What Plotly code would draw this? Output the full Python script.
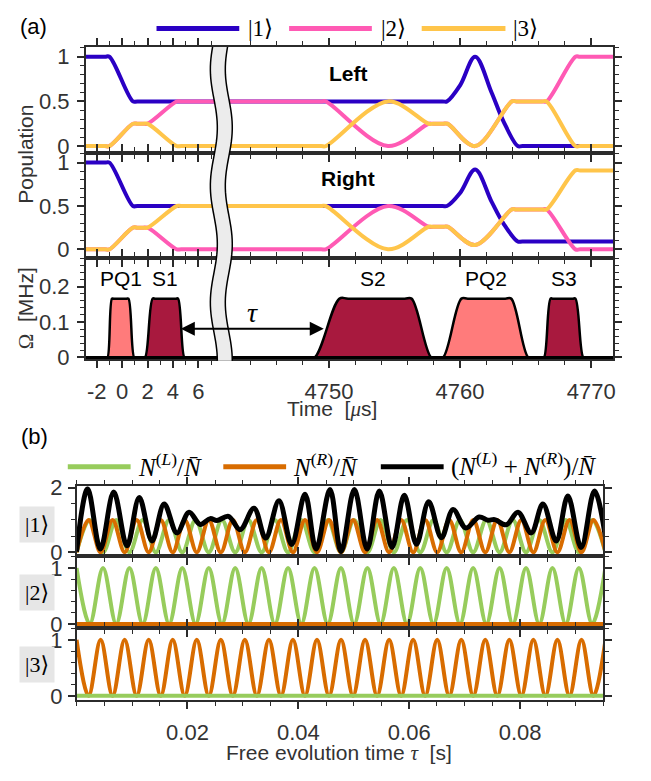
import math
import plotly.graph_objects as go

# ================= DATA =================
# ---- panel (a): populations (time in microseconds) ----
pop_t = [-3.0, -1.0, 0.85, 2.0, 4.3, 4749.75, 4754.5, 4757.6, 4759.05, 4761.15, 4763.95, 4766.6, 4768.8, 4772.0]
pink_left = [0, 0, 0.25, 0.25, 0.5, 0.5, 0, 0.25, 0.25, 0, 0.5, 0.5, 1.0, 1.0]
yellow_left = [0, 0, 0.25, 0.25, 0, 0, 0.5, 0.25, 0.25, 0, 0.5, 0.5, 0, 0]
pink_right = [0, 0, 0.25, 0.25, 0, 0, 0.5, 0.26, 0.26, 0.05, 0.46, 0.46, 0, 0]
yellow_right = [0, 0, 0.25, 0.25, 0.5, 0.5, 0, 0.26, 0.26, 0.05, 0.46, 0.46, 0.91, 0.91]
blue_t = [-3.0, -1.0, 0.85, 4759.0, 4760.0, 4761.15, 4762.4, 4763.3, 4764.4, 4772.0]
blue_left = [1, 1, 0.5, 0.5, 0.68, 1.0, 0.6, 0.28, 0, 0]
blue_right = [1, 1, 0.5, 0.5, 0.65, 0.92, 0.55, 0.3, 0.09, 0.09]

# ---- panel (a): pulses ----
pulse_labels = ["PQ1", "S1", "S2", "PQ2", "S3"]
pulse_kind = ["PQ", "S", "S", "PQ", "S"]
pulse_base_start = [-1.15, 1.8, 4748.9, 4758.7, 4766.4]
pulse_top_start = [-0.8, 2.4, 4750.8, 4760.1, 4766.9]
pulse_top_end = [0.5, 4.4, 4756.3, 4763.9, 4768.8]
pulse_base_end = [0.95, 4.9, 4757.8, 4765.2, 4769.4]
pulse_amp = 0.166
tau_arrow_t = [4.5, 4749.6]
tau_arrow_level = 0.081
time_ticks = [-2, 0, 2, 4, 6, 4750, 4760, 4770]
time_minor = [-1, 1, 3, 5, 7, 4744, 4746, 4748, 4752, 4754, 4756, 4758, 4762, 4764, 4766, 4768]

# ---- panel (b): free evolution (tau in s), extrema ----
green_t = [0.0, 0.00238, 0.00477, 0.00715, 0.00954, 0.01192, 0.0143, 0.01669, 0.01907, 0.02146,
           0.02384, 0.02622, 0.02861, 0.03099, 0.03338, 0.03576, 0.03814, 0.04053, 0.04291, 0.0453,
           0.04768, 0.05006, 0.05245, 0.05483, 0.05722, 0.0596, 0.06198, 0.06437, 0.06675, 0.06914,
           0.07152, 0.0739, 0.07629, 0.07867, 0.08106, 0.08344, 0.08582, 0.08821, 0.09059, 0.09298, 0.09536]
green_s2 = [1, 0, 1, 0, 1, 0, 1, 0, 1, 0, 1, 0, 1, 0, 1, 0, 1, 0, 1, 0, 1,
            0, 1, 0, 1, 0, 1, 0, 1, 0, 1, 0, 1, 0, 1, 0, 1, 0, 1, 0, 1]
green_s1 = [0, 1, 0, 1, 0, 1, 0, 1, 0, 1, 0, 1, 0, 1, 0, 1, 0, 1, 0, 1, 0,
            1, 0, 1, 0, 1, 0, 1, 0, 1, 0, 1, 0, 1, 0, 1, 0, 1, 0, 1, 0]
orange_t = [0.0, 0.00217, 0.00434, 0.0065, 0.00867, 0.01084, 0.01301, 0.01518, 0.01734, 0.01951,
            0.02168, 0.02385, 0.02602, 0.02818, 0.03035, 0.03252, 0.03469, 0.03686, 0.03902, 0.04119,
            0.04336, 0.04553, 0.0477, 0.04986, 0.05203, 0.0542, 0.05637, 0.05854, 0.0607, 0.06287,
            0.06504, 0.06721, 0.06938, 0.07154, 0.07371, 0.07588, 0.07805, 0.08022, 0.08238, 0.08455,
            0.08672, 0.08889, 0.09106, 0.09322, 0.09539]
orange_s3 = [1, 0, 1, 0, 1, 0, 1, 0, 1, 0, 1, 0, 1, 0, 1, 0, 1, 0, 1, 0, 1, 0, 1,
             0, 1, 0, 1, 0, 1, 0, 1, 0, 1, 0, 1, 0, 1, 0, 1, 0, 1, 0, 1, 0, 1]
orange_s1 = [0, 1, 0, 1, 0, 1, 0, 1, 0, 1, 0, 1, 0, 1, 0, 1, 0, 1, 0, 1, 0, 1, 0,
             1, 0, 1, 0, 1, 0, 1, 0, 1, 0, 1, 0, 1, 0, 1, 0, 1, 0, 1, 0, 1, 0]
black_t = [0.0, 0.0020, 0.0043, 0.0067, 0.0091, 0.0113, 0.0136, 0.0158, 0.0181, 0.0203,
           0.0223, 0.0241, 0.0253, 0.0274, 0.0295, 0.0320, 0.0341, 0.0365, 0.0388, 0.0412,
           0.0432, 0.0457, 0.0477, 0.0501, 0.0524, 0.0546, 0.0569, 0.0591, 0.0613, 0.0635,
           0.0658, 0.0679, 0.0702, 0.0726, 0.0742, 0.0754, 0.0775, 0.0796, 0.0820, 0.0841,
           0.0865, 0.0886, 0.0910, 0.0934, 0.0957]
black_v = [0.02, 1.96, 0.10, 1.86, 0.20, 1.69, 0.35, 1.49, 0.60, 1.24,
           0.86, 1.04, 0.98, 1.11, 0.70, 1.36, 0.44, 1.59, 0.24, 1.79,
           0.10, 1.94, 0.02, 1.94, 0.10, 1.89, 0.15, 1.76, 0.25, 1.56,
           0.45, 1.32, 0.75, 1.09, 0.99, 1.01, 0.85, 1.24, 0.60, 1.49,
           0.35, 1.74, 0.15, 1.89, 0.10]
tau_ticks = [0.02, 0.04, 0.06, 0.08]

# ================= STYLE =================
W, H = 651, 781
SANS = "Liberation Sans, Arial, sans-serif"
SERIF = "Liberation Serif, DejaVu Serif, serif"
LC = "#2b2b2b"
TC = "#333333"
BLUE = "#2a00c4"
PINK = "#ff5ab4"
YELLOW = "#ffc54a"
GREEN = "#97cc5c"
ORANGE = "#d86c00"
PQ_FILL = "#ff7b7b"
S_FILL = "#a8193e"
TICK_SIZE = 22


def px(x):
    return x / W


def py(y):
    return 1 - y / H


def tx(t):
    # broken time axis: early segment and late segment
    return 122.5 + 12.75 * t if t < 1000 else 330.0 + 13.15 * (t - 4750.0)


def pinned(t, v, d=0.35):
    T, V = [t[0]], [v[0]]
    for i in range(1, len(t)):
        if v[i] == v[i - 1] and t[i] - t[i - 1] > 2.2 * d:
            T += [t[i - 1] + d, t[i] - d]
            V += [v[i], v[i]]
        T.append(t[i])
        V.append(v[i])
    return [tx(a) for a in T], V


fig = go.Figure()


def line(x, y, color, width, xa, ya, spline=True):
    fig.add_trace(go.Scatter(x=x, y=y, mode="lines", xaxis=xa, yaxis=ya,
                             line=dict(color=color, width=width,
                                       shape="spline" if spline else "linear", smoothing=1.0),
                             showlegend=False, hoverinfo="skip"))


# panel (a) populations
for xa, ya, b, p, yl in [("x", "y", blue_left, pink_left, yellow_left),
                         ("x2", "y2", blue_right, pink_right, yellow_right)]:
    bx, by = pinned(blue_t, b)
    line(bx, by, BLUE, 4, xa, ya)
    qx, qy = pinned(pop_t, p)
    line(qx, qy, PINK, 4, xa, ya)
    rx, ry = pinned(pop_t, yl)
    line(rx, ry, YELLOW, 4, xa, ya)

# panel (a) pulses
for b0, a0, a1, b1, k in zip(pulse_base_start, pulse_top_start, pulse_top_end, pulse_base_end, pulse_kind):
    d0 = max(0.12, 0.35 * (a0 - b0))
    d1 = max(0.12, 0.35 * (b1 - a1))
    T = [b0 - d0, b0, a0, a0 + d0, a1 - d1, a1, b1, b1 + d1]
    V = [0, 0, pulse_amp, pulse_amp, pulse_amp, pulse_amp, 0, 0]
    fig.add_trace(go.Scatter(x=[tx(t) for t in T], y=V, mode="lines", xaxis="x3", yaxis="y3",
                             fill="toself", fillcolor=PQ_FILL if k == "PQ" else S_FILL,
                             line=dict(color="black", width=2.5, shape="spline"),
                             showlegend=False, hoverinfo="skip"))
line([tx(-3), tx(4772)], [0, 0], "black", 3, "x3", "y3", spline=False)

# panel (b)
line(green_t, green_s1, GREEN, 4, "x4", "y4")
line(orange_t, orange_s1, ORANGE, 4, "x4", "y4")
line(black_t, black_v, "black", 5, "x4", "y4")
line(green_t, green_s2, GREEN, 4, "x5", "y5")
line([0, 0.096], [0, 0], ORANGE, 4, "x5", "y5", spline=False)
line(orange_t, orange_s3, ORANGE, 4, "x6", "y6")
line([0, 0.096], [0, 0], GREEN, 4, "x6", "y6", spline=False)


# ================= AXES =================
def ax(domain, rng, anchor, **kw):
    minor = dict(ticks="outside", ticklen=4, tickwidth=1.2, tickcolor=LC, showgrid=False)
    minor.update(kw.pop("minor", {}))
    a = dict(domain=domain, range=rng, anchor=anchor, showline=True, linecolor=LC, linewidth=1.5,
             mirror="allticks", ticks="outside", ticklen=7, tickwidth=1.5, tickcolor=LC,
             showgrid=False, zeroline=False, tickfont=dict(family=SANS, size=TICK_SIZE, color=TC),
             minor=minor, fixedrange=True)
    a.update(kw)
    return a


xa_dom = [px(86), px(615)]
xb_dom = [px(76.8), px(605.2)]
xr = [86, 615]
xt = dict(tickmode="array", tickvals=[tx(v) for v in time_ticks], ticktext=[str(v) for v in time_ticks],
          minor=dict(tickmode="array", tickvals=[tx(v) for v in time_minor]))
bt = dict(tickmode="array", tickvals=tau_ticks, ticktext=["0.02", "0.04", "0.06", "0.08"],
          minor=dict(dtick=0.005, tick0=0))

layout = dict(
    width=W, height=H, margin=dict(l=0, r=0, t=0, b=0), autosize=False,
    paper_bgcolor="white", plot_bgcolor="white", showlegend=False,
    xaxis=ax(xa_dom, xr, "y", showticklabels=False, **xt),
    xaxis2=ax(xa_dom, xr, "y2", showticklabels=False, **xt),
    xaxis3=ax(xa_dom, xr, "y3", ticklabelstandoff=5, **xt),
    yaxis=ax([py(146), py(37)], [-0.076, 1.109], "x", tickmode="array", tickvals=[0, 0.5, 1],
             ticktext=["0", "0.5", "1"], minor=dict(dtick=0.1, tick0=0), ticklabelstandoff=3),
    yaxis2=ax([py(254), py(146)], [-0.098, 1.112], "x2", tickmode="array", tickvals=[0, 0.5, 1],
              ticktext=["0", "0.5", "1"], minor=dict(dtick=0.1, tick0=0), ticklabelstandoff=3),
    yaxis3=ax([py(358), py(254)], [-0.004, 0.281], "x3", tickmode="array", tickvals=[0, 0.1, 0.2],
              ticktext=["0", "0.1", "0.2"], minor=dict(dtick=0.02, tick0=0), ticklabelstandoff=3),
    xaxis4=ax(xb_dom, [0, 0.095], "y4", showticklabels=False, **bt),
    xaxis5=ax(xb_dom, [0, 0.095], "y5", showticklabels=False, **bt),
    xaxis6=ax(xb_dom, [0, 0.095], "y6", ticklabelstandoff=5, **bt),
    yaxis4=ax([py(561), py(489)], [-0.12, 2.04], "x4", tickmode="array", tickvals=[0, 2],
              ticktext=["0", "2"], minor=dict(dtick=0.5, tick0=0), ticklabelstandoff=1),
    yaxis5=ax([py(635), py(561)], [-0.075, 1.21], "x5", tickmode="array", tickvals=[0, 1],
              ticktext=["0", "1"], minor=dict(dtick=0.2, tick0=0), ticklabelstandoff=1),
    yaxis6=ax([py(709), py(635)], [-0.075, 1.21], "x6", tickmode="array", tickvals=[0, 1],
              ticktext=["0", "1"], minor=dict(dtick=0.2, tick0=0), ticklabelstandoff=1),
)
fig.update_layout(**layout)

shapes = []
ann = []


def text(x, y, s, size=21, family=SANS, color="black", xanchor="center", angle=0, **kw):
    ann.append(dict(x=px(x), y=py(y), xref="paper", yref="paper", text=s, showarrow=False,
                    font=dict(family=family, size=size, color=color), xanchor=xanchor,
                    yanchor="middle", textangle=angle, **kw))


def hline(x0, x1, y, color, width):
    shapes.append(dict(type="line", xref="paper", yref="paper", x0=px(x0), x1=px(x1), y0=py(y), y1=py(y),
                       line=dict(color=color, width=width)))


# break band across panel (a)
ys = [37 + i * (323 / 80) for i in range(81)]
left = [(214.5 + 3.5 * math.sin(2 * math.pi * (y - 90) / 120), y) for y in ys]
right = [(x + 15, y) for x, y in left]


def pth(pts):
    return " ".join(("M" if i == 0 else "L") + f"{px(x):.5f},{py(y):.5f}" for i, (x, y) in enumerate(pts))


shapes.append(dict(type="path", xref="paper", yref="paper", layer="above",
                   path=pth(left + right[::-1]) + " Z", fillcolor="#ececec", line=dict(width=0)))
for edge in (left, right):
    shapes.append(dict(type="path", xref="paper", yref="paper", layer="above", path=pth(edge),
                       fillcolor="rgba(0,0,0,0)", line=dict(color="black", width=1.5)))

# legend (a)
hline(157, 240, 18, BLUE, 5)
hline(290, 373, 18, PINK, 5)
hline(423, 507, 18, YELLOW, 5)
text(247, 18, "|1⟩", 23, SERIF, xanchor="left")
text(380, 18, "|2⟩", 23, SERIF, xanchor="left")
text(513, 18, "|3⟩", 23, SERIF, xanchor="left")

# legend (b)
hline(68, 131, 469, GREEN, 5)
hline(224, 287, 469, ORANGE, 5)
hline(382, 445, 469, "black", 5)
text(136, 467, "<i>N</i><sup>(<i>L</i>)</sup>/<i>N̄</i>", 25, SERIF, xanchor="left")
text(292, 467, "<i>N</i><sup>(<i>R</i>)</sup>/<i>N̄</i>", 25, SERIF, xanchor="left")
text(450, 467, "(<i>N</i><sup>(<i>L</i>)</sup> + <i>N</i><sup>(<i>R</i>)</sup>)/<i>N̄</i>", 25, SERIF, xanchor="left")

text(34, 16, "(a)", 22)
text(35, 438, "(b)", 22)
text(350, 64, "<b>Left</b>", 21)
text(349, 172, "<b>Right</b>", 21)
text(26, 147, "Population", 21, angle=-90, color=TC)
text(26, 306, "<span style='font-family:Liberation Serif'>Ω</span>\u00a0\u00a0[MHz]", 21, angle=-90, color=TC)
text(333, 410, "Time\u00a0\u00a0[<span style='font-family:Liberation Serif'><i>μ</i></span>s]", 21, color=TC)
text(340, 763, "Free evolution time <span style='font-family:Liberation Serif'><i>τ</i></span>\u00a0\u00a0[s]", 21, color=TC)

# pulse labels
for lab, b0, b1 in zip(pulse_labels, pulse_base_start, pulse_base_end):
    ann.append(dict(x=tx((b0 + b1) / 2), y=0.222, xref="x3", yref="y3", text=lab, showarrow=False,
                    font=dict(family=SANS, size=21, color="black"), xanchor="center", yanchor="middle"))
ann.append(dict(x=tx(tau_arrow_t[1]), y=tau_arrow_level, xref="x3", yref="y3",
                ax=tx(tau_arrow_t[0]), ay=tau_arrow_level, axref="x3", ayref="y3", text="",
                showarrow=True, arrowhead=2, startarrowhead=2, arrowside="end+start",
                arrowsize=1.4, startarrowsize=1.4, arrowwidth=2, arrowcolor="black",
                standoff=0, startstandoff=0))
text(253, 310, "<i>τ</i>", 28, SERIF)

# state boxes (b)
for lab, yc in [("|1⟩", 528), ("|2⟩", 598), ("|3⟩", 672)]:
    ann.append(dict(x=px(37), y=py(yc), xref="paper", yref="paper", text=lab, showarrow=False,
                    font=dict(family=SERIF, size=22, color="black"), bgcolor="#e6e6e6",
                    width=32, height=33, xanchor="center", yanchor="middle"))

fig.update_layout(shapes=shapes, annotations=ann)
fig.write_html("out.html")
